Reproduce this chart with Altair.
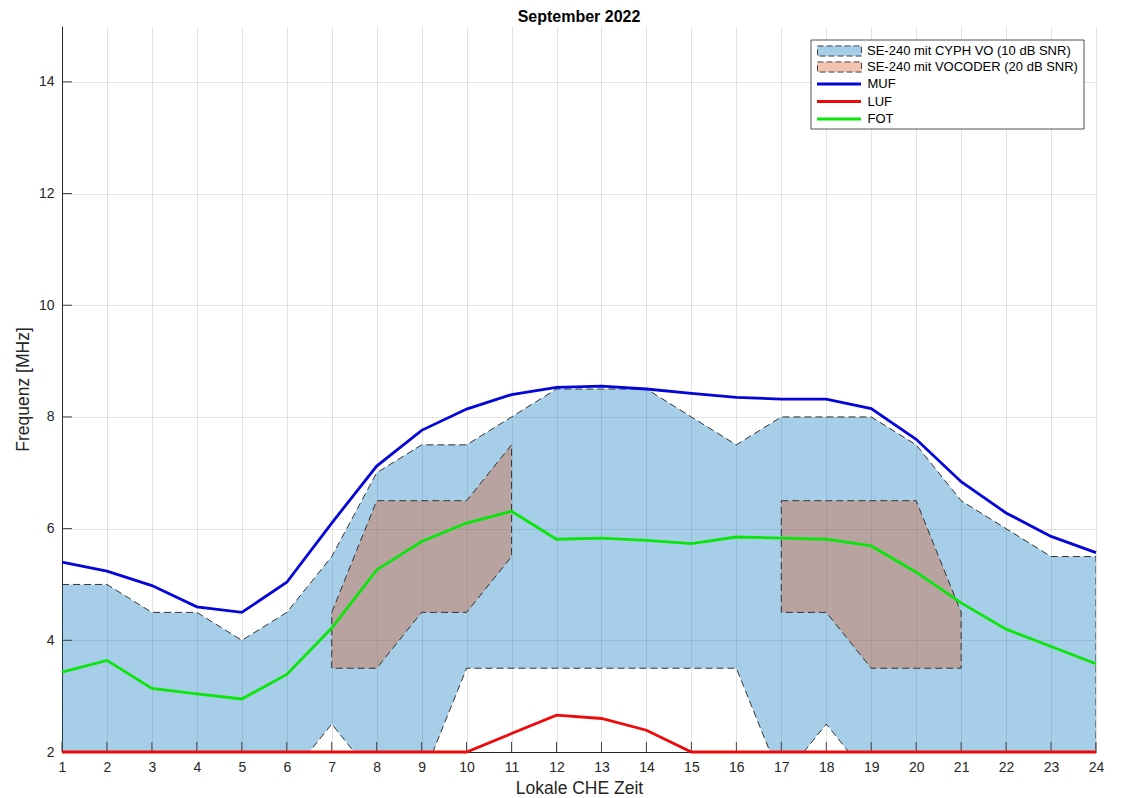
import altair as alt
import pandas as pd

FONT = "Liberation Sans"

# ---------------- data ----------------
hours = [1, 2, 3, 4, 5, 6, 7, 8, 9, 10, 11, 12, 13, 14, 15, 16, 17, 18, 19, 20, 21, 22, 23, 24]
muf = [5.40, 5.24, 4.98, 4.60, 4.50, 5.04, 6.10, 7.12, 7.76, 8.14, 8.40, 8.53,
       8.55, 8.50, 8.42, 8.35, 8.32, 8.32, 8.15, 7.60, 6.84, 6.28, 5.86, 5.57]
luf = [2.0, 2.0, 2.0, 2.0, 2.0, 2.0, 2.0, 2.0, 2.0, 2.0, 2.33, 2.66,
       2.60, 2.39, 2.0, 2.0, 2.0, 2.0, 2.0, 2.0, 2.0, 2.0, 2.0, 2.0]
fot = [3.43, 3.64, 3.14, 3.04, 2.95, 3.39, 4.22, 5.26, 5.77, 6.10, 6.31, 5.81,
       5.83, 5.79, 5.73, 5.85, 5.83, 5.81, 5.69, 5.22, 4.67, 4.20, 3.89, 3.58]

cyph_upper = [5.0, 5.0, 4.5, 4.5, 4.0, 4.5, 5.5, 7.0, 7.5, 7.5, 8.0, 8.5,
              8.5, 8.5, 8.0, 7.5, 8.0, 8.0, 8.0, 7.5, 6.5, 6.0, 5.5, 5.5]
cyph_lower = [1.5, 1.5, 1.5, 1.5, 1.5, 1.5, 2.5, 1.5, 1.5, 3.5, 3.5, 3.5,
              3.5, 3.5, 3.5, 3.5, 1.5, 2.5, 1.5, 1.5, 1.5, 1.5, 1.5, 1.5]

voc_a_hours = [7, 8, 9, 10, 11]
voc_a_upper = [4.5, 6.5, 6.5, 6.5, 7.5]
voc_a_lower = [3.5, 3.5, 4.5, 4.5, 5.5]

voc_b_hours = [17, 18, 19, 20, 20.8, 21]
voc_b_upper = [6.5, 6.5, 6.5, 6.5, 4.9, 4.5]
voc_b_lower = [4.5, 4.5, 3.5, 3.5, 3.5, 3.5]

x_ticks = hours
y_ticks = [2, 4, 6, 8, 10, 12, 14]

area_names = ["SE-240 mit CYPH VO (10 dB SNR)", "SE-240 mit VOCODER (20 dB SNR)"]
area_colors = ["#0072BD", "#D95319"]
area_legend_colors = ["#A6CEE8", "#F2C3AF"]
line_names = ["MUF", "LUF", "FOT"]
line_colors = ["#0505D8", "#EE0A0A", "#0AE60A"]

# ---------------- tables ----------------
df_cyph = pd.DataFrame({"hour": hours, "upper": cyph_upper, "lower": cyph_lower,
                        "name": area_names[0], "region": "cyph"})
df_voc = pd.concat([
    pd.DataFrame({"hour": voc_a_hours, "upper": voc_a_upper, "lower": voc_a_lower,
                  "name": area_names[1], "region": "vocA"}),
    pd.DataFrame({"hour": voc_b_hours, "upper": voc_b_upper, "lower": voc_b_lower,
                  "name": area_names[1], "region": "vocB"}),
], ignore_index=True)
df_areas = pd.concat([df_cyph, df_voc], ignore_index=True)

df_lines = pd.concat([
    pd.DataFrame({"hour": hours, "freq": muf, "series": "MUF"}),
    pd.DataFrame({"hour": hours, "freq": luf, "series": "LUF"}),
    pd.DataFrame({"hour": hours, "freq": fot, "series": "FOT"}),
], ignore_index=True)

W, H = 1034, 726

X = alt.X("hour:Q", scale=alt.Scale(domain=[1, 24], nice=False, zero=False),
          axis=alt.Axis(values=x_ticks, title="Lokale CHE Zeit", format="d",
                        labelFlush=False, labelOverlap=False,
                        labelPadding=8, titlePadding=5))


def Yf(field):
    return alt.Y(f"{field}:Q", scale=alt.Scale(domain=[2, 15], nice=False, zero=False),
                 axis=alt.Axis(values=y_ticks, title="Frequenz [MHz]", format="d",
                               labelOverlap=False, labelPadding=8, titlePadding=6))


rect_path = "M-1,-0.23H1V0.23H-1Z"

blue = alt.Chart(df_cyph).mark_area(fillOpacity=0.35, clip=True).encode(
    x=X, y=Yf("upper"), y2="lower:Q",
    fill=alt.Fill("name:N", scale=alt.Scale(domain=area_names, range=area_colors), legend=None))

brown = alt.Chart(df_voc).mark_area(fillOpacity=0.35, clip=True).encode(
    x=X, y=Yf("upper"), y2="lower:Q",
    fill=alt.Fill("name:N", scale=alt.Scale(domain=area_names, range=area_colors), legend=None),
    detail="region:N")

outline = alt.Chart(df_areas).mark_area(fill="transparent", stroke="#333333", strokeWidth=1,
                                        strokeDash=[7, 4], clip=True).encode(
    x=X, y=Yf("upper"), y2="lower:Q", detail="region:N")

xt = alt.Chart(pd.DataFrame({"hour": x_ticks})).mark_rule(color="#404040", strokeWidth=1).encode(
    x=X, y=alt.value(H), y2=alt.value(H - 10))
yt = alt.Chart(pd.DataFrame({"freq": y_ticks})).mark_rule(color="#404040", strokeWidth=1).encode(
    y=Yf("freq"), x=alt.value(0), x2=alt.value(10))

lines = alt.Chart(df_lines).mark_line(strokeWidth=2.8).encode(
    x=X, y=Yf("freq"),
    color=alt.Color("series:N", scale=alt.Scale(domain=line_names, range=line_colors),
                    legend=alt.Legend(title=None, orient="none", legendX=753.5, legendY=50,
                                      symbolType="stroke", symbolSize=1936,
                                      symbolStrokeWidth=3, clipHeight=16, rowPadding=1.5,
                                      labelOffset=5, labelFont=FONT, labelFontSize=13,
                                      labelColor="#000000", padding=0)))

box = alt.Chart(pd.DataFrame({"k": [0]})).mark_rect(fill="white", stroke="#262626",
                                                   strokeWidth=0.8).encode(
    x=alt.value(749), x2=alt.value(1022), y=alt.value(14), y2=alt.value(103))

# legend carrier for the two filled regions (no rows of its own)
area_key = alt.Chart(pd.DataFrame({"name": pd.Series([], dtype=str)})).mark_point(
    filled=True, opacity=1, stroke="#444444", strokeWidth=1, strokeDash=[6, 3]).encode(
    fill=alt.Fill("name:N", scale=alt.Scale(domain=area_names, range=area_legend_colors),
                  legend=alt.Legend(title=None, orient="none", legendX=755, legendY=17,
                                    symbolType=rect_path, symbolSize=1936,
                                    symbolStrokeColor="#444444", symbolStrokeWidth=1,
                                    symbolDash=[6, 3], symbolOpacity=1,
                                    clipHeight=16, rowPadding=0,
                                    labelOffset=5, labelFont=FONT, labelFontSize=13,
                                    labelColor="#000000", padding=0, labelLimit=400)))

chart = alt.layer(blue, brown, outline, xt, yt, lines, box, area_key).resolve_scale(
    fill="independent"
).properties(
    width=W, height=H,
    title=alt.Title("September 2022", font=FONT, fontSize=16, fontWeight="bold",
                    color="#000000", anchor="middle", offset=1),
    autosize=alt.AutoSizeParams(type="none"),
    padding={"left": 54, "top": 18, "right": 12, "bottom": 44},
).configure_view(stroke=None).configure_axis(
    labelFont=FONT, labelFontSize=14, labelColor="#262626",
    titleFont=FONT, titleFontSize=17.5, titleFontWeight="normal", titleColor="#262626",
    domainColor="#262626", domainWidth=1, tickSize=0,
    gridColor="#262626", gridOpacity=0.13,
)

chart.save("out.html", embed_options={"renderer": "svg", "actions": False})
